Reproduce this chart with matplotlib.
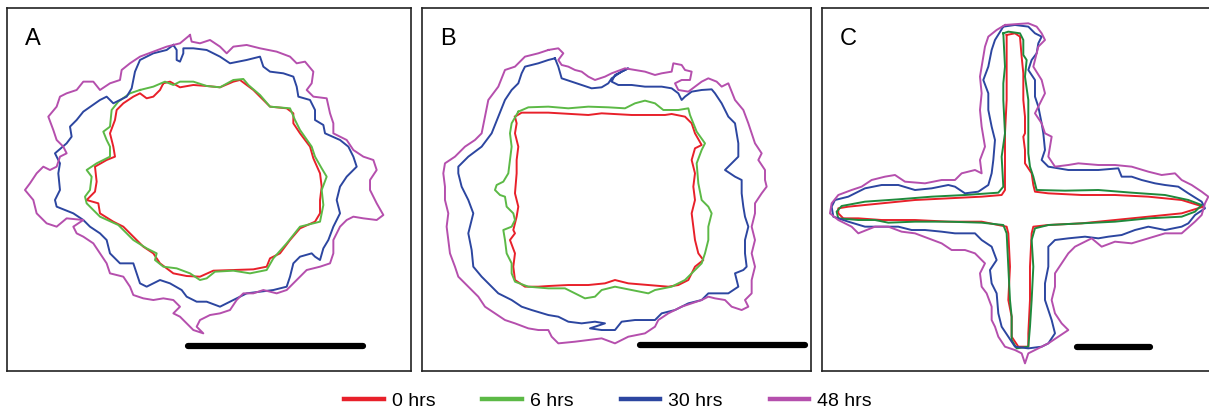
import numpy as np
import matplotlib
matplotlib.use("Agg")
import matplotlib.pyplot as plt
from matplotlib.lines import Line2D

# ---- data: contour traces (panel-local units, y downward) ----
panel_labels = ["A", "B", "C"]
series_labels = ["0 hrs", "6 hrs", "30 hrs", "48 hrs"]

A_0 = [(490,250),(510,245),(540,262),(580,255),(620,258),(660,262),(700,245),(720,240),(760,270),(790,300),(810,320),(860,325),(880,340),(880,370),(900,400),(930,440),(940,475),(960,520),(965,560),(960,600),(960,640),(945,665),(900,685),(870,720),(840,760),(810,775),(800,800),(760,808),(700,810),(640,812),(600,830),(560,828),(520,820),(480,790),(460,760),(430,740),(400,710),(370,680),(340,665),(300,640),(295,610),(260,600),(285,575),(290,545),(285,500),(320,480),(345,470),(340,440),(330,400),(345,360),(350,330),(370,310),(400,290),(420,280),(440,295),(460,290),(480,270),(490,250)]
A_6 = [(420,270),(460,260),(495,245),(520,255),(540,245),(580,245),(620,258),(660,262),(700,240),(730,237),(745,255),(780,285),(810,320),(870,325),(885,360),(900,390),(935,440),(945,470),(965,505),(980,530),(965,570),(970,615),(960,665),(900,680),(860,730),(820,775),(800,810),(750,820),(700,812),(645,815),(620,835),(600,840),(570,820),(530,805),(490,800),(465,780),(470,760),(440,745),(400,720),(355,675),(300,650),(260,610),(255,590),(270,570),(275,530),(260,510),(290,490),(330,470),(330,440),(320,420),(310,395),(330,380),(335,330),(355,305),(390,280),(420,270)]
A_30 = [(520,135),(530,150),(530,180),(540,185),(550,160),(550,145),(580,145),(620,150),(660,170),(690,190),(740,180),(780,170),(790,200),(810,215),(850,220),(880,230),(890,260),(895,290),(930,300),(945,330),(945,360),(970,375),(975,400),(1020,420),(1045,440),(1060,470),(1070,500),(1040,530),(1020,560),(1010,600),(1020,640),(1000,680),(985,720),(970,745),(960,780),(945,770),(935,760),(900,770),(880,790),(870,830),(860,860),(820,870),(780,875),(740,880),(700,900),(660,920),(620,905),(590,905),(560,890),(545,870),(510,850),(480,840),(440,860),(420,850),(410,820),(400,790),(360,790),(330,760),(320,720),(300,700),(270,680),(250,660),(220,640),(170,620),(165,600),(180,570),(175,520),(180,490),(165,460),(200,430),(215,410),(210,380),(230,360),(250,335),(300,300),(320,290),(340,310),(360,300),(380,290),(395,265),(400,240),(405,215),(420,180),(460,160),(500,150),(520,135)]
A_48 = [(570,105),(575,125),(600,130),(630,120),(660,140),(680,160),(700,140),(740,135),(780,145),(830,155),(870,170),(890,190),(915,185),(940,215),(935,250),(920,270),(940,290),(980,295),(990,340),(1000,370),(1000,400),(1040,420),(1060,450),(1090,470),(1120,480),(1130,510),(1110,540),(1110,570),(1130,610),(1150,645),(1130,660),(1090,655),(1060,650),(1040,660),(1020,680),(1000,720),(1000,760),(990,790),(960,800),(920,810),(890,840),(860,870),(830,880),(790,870),(760,880),(730,880),(710,900),(690,930),(660,940),(630,945),(600,960),(590,980),(610,1000),(580,990),(560,970),(540,950),(520,940),(540,920),(520,900),(490,895),(460,900),(430,895),(400,885),(390,860),(370,830),(330,820),(320,790),(300,760),(280,730),(250,710),(230,700),(220,680),(250,660),(200,655),(170,680),(140,670),(110,640),(100,600),(75,570),(90,550),(110,520),(130,500),(150,510),(170,500),(180,470),(200,460),(190,440),(170,420),(160,390),(145,350),(170,320),(180,290),(200,280),(230,270),(250,245),(280,245),(300,270),(330,250),(360,240),(365,210),(390,190),(420,170),(460,155),(500,140),(540,130),(570,105)]

B_0 = [(300,350),(320,338),(400,338),(520,345),(560,340),(650,345),(700,345),(750,345),(770,342),(810,350),(830,370),(840,400),(860,435),(840,445),(830,480),(840,520),(835,560),(840,600),(830,640),(835,680),(840,720),(850,760),(865,780),(840,800),(830,820),(820,840),(790,855),(760,860),(700,855),(640,850),(600,840),(570,850),(520,855),(460,855),(400,858),(370,860),(330,860),(300,840),(295,800),(300,760),(285,720),(300,700),(295,690),(305,650),(310,620),(300,580),(305,520),(305,480),(310,440),(300,400),(305,370),(300,350)]
B_6 = [(310,335),(340,322),(400,320),(460,325),(520,320),(580,322),(630,325),(660,310),(690,302),(720,310),(745,330),(790,330),(820,325),(825,345),(845,395),(870,430),(860,450),(845,490),(850,550),(860,600),(880,620),(890,640),(880,680),(880,720),(870,760),(860,790),(830,820),(810,840),(770,860),(720,870),(700,880),(650,870),(600,860),(560,870),(540,890),(510,895),(480,880),(450,865),(400,865),(340,860),(300,845),(290,820),(290,790),(275,760),(270,720),(265,690),(290,680),(300,660),(295,640),(275,620),(270,590),(255,585),(240,570),(245,555),(265,545),(280,520),(285,480),(290,440),(285,400),(290,370),(310,335)]
B_30 = [(420,175),(430,200),(440,235),(470,245),(500,255),(530,265),(560,262),(580,250),(590,235),(620,215),(640,205),(600,225),(590,245),(610,255),(650,255),(690,260),(740,260),(770,265),(790,280),(800,300),(810,290),(830,275),(860,270),(890,268),(900,280),(920,310),(940,350),(960,370),(965,400),(970,430),(970,470),(950,490),(930,510),(960,530),(980,540),(980,580),(985,620),(990,650),(1000,680),(990,720),(990,760),(995,800),(985,810),(960,820),(970,860),(940,880),(880,880),(860,900),(820,910),(780,930),(740,940),(720,960),(660,960),(620,965),(600,990),(560,990),(525,985),(570,970),(540,965),(500,970),(460,965),(430,950),(400,945),(350,930),(320,920),(290,900),(250,880),(220,850),(200,830),(175,800),(170,750),(160,700),(175,640),(160,600),(140,560),(130,520),(130,500),(160,470),(200,440),(230,400),(250,350),(270,300),(290,270),(310,250),(320,220),(330,200),(370,190),(400,180),(420,175)]
B_48 = [(400,150),(430,145),(445,160),(430,180),(440,195),(460,200),(480,210),(500,215),(520,230),(540,240),(570,230),(590,220),(630,205),(660,210),(690,215),(720,225),(740,220),(770,215),(775,190),(800,195),(810,210),(830,215),(825,240),(800,240),(780,250),(790,270),(820,275),(840,260),(860,245),(880,235),(905,245),(920,260),(940,250),(960,300),(985,330),(1000,370),(1010,400),(1020,430),(1040,460),(1030,480),(1050,510),(1050,540),(1055,560),(1040,580),(1020,610),(1020,640),(1010,680),(1020,720),(1010,760),(1020,800),(1010,840),(1010,880),(990,900),(1000,920),(980,930),(950,920),(930,900),(900,895),(880,890),(860,900),(830,910),(800,920),(760,940),(730,960),(720,980),(690,1000),(640,1010),(600,1030),(560,1015),(520,1020),(480,1025),(430,1030),(410,1010),(400,990),(370,990),(340,985),(300,970),(270,960),(240,940),(210,920),(190,890),(160,860),(130,830),(120,800),(105,760),(100,720),(95,680),(100,640),(90,600),(90,560),(85,520),(90,490),(120,470),(150,440),(180,420),(200,400),(210,350),(220,300),(250,260),(270,210),(300,200),(330,170),(370,160),(400,150)]

C_0 = [(575,105),(600,100),(615,110),(620,170),(625,220),(625,300),(630,350),(630,400),(625,410),(630,450),(630,490),(650,520),(655,555),(660,575),(700,580),(800,585),(900,585),(1000,590),(1100,600),(1165,620),(1100,640),(1000,650),(900,660),(800,670),(700,675),(655,680),(650,700),(645,800),(645,900),(640,1000),(640,1040),(610,1040),(590,1010),(590,950),(580,900),(585,800),(580,700),(575,680),(500,665),(400,665),(300,660),(200,660),(130,655),(85,655),(70,640),(70,625),(100,620),(200,610),(300,600),(400,595),(500,590),(560,585),(570,570),(570,500),(570,400),(575,300),(575,200),(575,105)]
C_6 = [(565,100),(580,95),(615,100),(625,120),(625,165),(635,180),(630,230),(640,300),(640,400),(640,460),(645,500),(655,530),(665,570),(750,572),(850,570),(950,578),(1050,585),(1120,600),(1160,615),(1140,635),(1100,650),(1000,655),(900,665),(800,670),(700,675),(660,685),(650,720),(655,800),(650,900),(645,980),(640,1040),(605,1045),(590,1020),(590,950),(585,900),(580,800),(575,700),(565,675),(500,668),(400,665),(300,665),(220,668),(180,660),(130,660),(70,655),(65,635),(80,618),(150,605),(250,598),(350,590),(450,585),(550,578),(565,560),(560,470),(570,400),(565,300),(565,250),(570,200),(565,100)]
C_30 = [(565,80),(600,75),(640,80),(660,100),(680,110),(670,130),(665,160),(650,180),(640,210),(660,240),(660,290),(670,320),(680,370),(685,400),(690,450),(680,480),(700,500),(760,510),(790,510),(850,510),(910,505),(920,530),(950,530),(980,540),(1020,550),(1050,555),(1090,560),(1120,580),(1160,605),(1170,625),(1140,645),(1120,670),(1100,680),(1050,690),(1000,680),(960,690),(920,705),(880,710),(850,715),(810,710),(760,715),(720,720),(700,740),(700,800),(690,850),(690,900),(710,960),(720,1000),(700,1030),(680,1040),(640,1045),(600,1040),(580,1010),(560,980),(550,940),(545,880),(530,850),(525,810),(545,780),(530,740),(500,720),(480,700),(420,700),(380,695),(330,690),(290,690),(250,680),(190,680),(150,680),(100,665),(55,650),(50,620),(60,600),(100,590),(150,565),(200,555),(250,555),(300,570),(350,565),(400,555),(420,560),(450,580),(490,575),(520,555),(530,520),(535,480),(540,420),(530,380),(520,330),(520,280),(505,240),(520,200),(530,150),(540,120),(565,80)]
C_48 = [(570,75),(610,72),(640,70),(665,80),(680,100),(690,120),(670,140),(660,180),(655,200),(680,240),(690,280),(670,320),(660,340),(680,370),(690,400),(710,410),(705,440),(700,470),(720,500),(760,495),(790,490),(850,495),(900,495),(950,500),(1000,515),(1040,525),(1080,520),(1100,540),(1130,555),(1160,575),(1180,590),(1170,610),(1160,645),(1140,665),(1100,700),(1050,700),(1000,715),(950,730),(900,725),(860,740),(830,715),(780,740),(760,760),(740,790),(720,820),(720,860),(710,900),(720,940),(740,970),(760,990),(730,1010),(700,1030),(660,1050),(640,1060),(630,1090),(620,1060),(600,1050),(570,1040),(550,1010),(540,980),(530,960),(530,920),(515,880),(500,860),(495,820),(510,790),(480,760),(450,750),(410,750),(380,730),(340,715),(300,700),(260,695),(220,680),(180,680),(130,700),(110,680),(70,660),(45,640),(50,610),(70,585),(110,570),(140,560),(170,540),(210,530),(240,525),(270,545),(330,550),(380,540),(420,540),(440,520),(480,510),(500,520),(495,480),(510,440),(500,380),(495,330),(500,280),(495,230),(500,200),(510,140),(520,110),(545,90),(570,75)]

# scale bars (panel-local units): x start, x end, y
scalebars = [(565, 1088, 1037), (675, 1170, 1035), (785, 1005, 1040)]

contours = {"A": [A_0, A_6, A_30, A_48],
            "B": [B_0, B_6, B_30, B_48],
            "C": [C_0, C_6, C_30, C_48]}

# ---- styling ----
colors_ab = ["#e8202a", "#5cb946", "#2c46a0", "#b54fad"]
colors_c = ["#e8202a", "#1f8a3c", "#2c46a0", "#b54fad"]
W, H = 1209, 411
fig = plt.figure(figsize=(W / 100, H / 100), dpi=100)

# panel boxes in pixel coordinates (left, top, right, bottom) and local xlim
boxes = [(7.3, 8.3, 410.7, 370.7), (422.3, 8.3, 811.0, 370.7), (822.3, 8.3, 1211.0, 370.7)]
xlims = [(22, 1232), (22, 1188), (22, 1188)]
ylim = (1112, 25)

for i, lab in enumerate(panel_labels):
    l, t, r, b = boxes[i]
    ax = fig.add_axes([l / W, 1 - b / H, (r - l) / W, (b - t) / H])
    cols = colors_c if lab == "C" else colors_ab
    for pts, c in zip(contours[lab], cols):
        arr = np.array(pts, dtype=float)
        ax.plot(arr[:, 0], arr[:, 1], color=c, lw=1.4, solid_joinstyle="round")
    x0, x1, y = scalebars[i]
    ax.plot([x0, x1], [y, y], color="black", lw=4.5, solid_capstyle="round")
    ax.set_xlim(*xlims[i])
    ax.set_ylim(*ylim)
    ax.set_xticks([])
    ax.set_yticks([])
    for s in ax.spines.values():
        s.set_linewidth(1.2)
        s.set_color("#222222")
    ax.text(0.045, 0.945, lab, transform=ax.transAxes, fontsize=17,
            family="Liberation Sans", ha="left", va="top")

handles = [Line2D([0], [0], color=c, lw=3.2) for c in colors_ab]
leg = fig.legend(handles, series_labels, loc="center", ncol=4,
                 bbox_to_anchor=(0.503, 1 - 401 / H), frameon=False,
                 prop={"family": "Liberation Sans", "size": 14},
                 handlelength=2.05, handletextpad=0.41, columnspacing=2.4)

fig.savefig("out.png", dpi=100)
